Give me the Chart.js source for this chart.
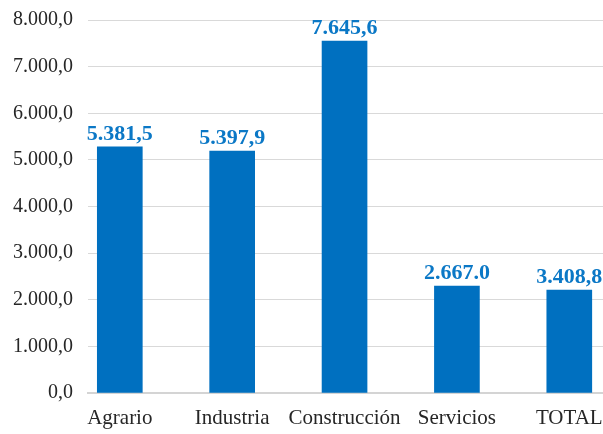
<!DOCTYPE html>
<html>
<head>
<meta charset="utf-8">
<script src="https://cdn.jsdelivr.net/npm/chart.js@4.4.0/dist/chart.umd.min.js"></script>
<style>
  html, body { margin: 0; padding: 0; background: #fff; overflow: hidden; }
  #wrap { width: 603px; height: 434px; position: relative; }
</style>
</head>
<body>
<div id="wrap"><canvas id="barChart"></canvas></div>
<script>
const categories = ['Agrario', 'Industria', 'Construcción', 'Servicios', 'TOTAL'];
const barValues = [5280, 5190, 7550, 2295, 2210];
const barLabels = ['5.381,5', '5.397,9', '7.645,6', '2.667.0', '3.408,8'];
const yTicks = [0, 1000, 2000, 3000, 4000, 5000, 6000, 7000, 8000];

const blue = '#0070C0';
const labelBlue = '#0B78C6';
const serif = '"Liberation Serif", "Times New Roman", serif';

function fmt(v) {
    const parts = v.toFixed(1).split('.');
    const ints = parts[0].replace(/\B(?=(\d{3})+(?!\d))/g, '.');
    return ints + ',' + parts[1];
}

// etiquetas encima de cada barra
const topLabels = {
    id: 'topLabels',
    afterDatasetsDraw(chart) {
        const ctx = chart.ctx;
        const meta = chart.getDatasetMeta(0);
        ctx.save();
        ctx.font = 'bold 22px ' + serif;
        ctx.fillStyle = labelBlue;
        ctx.textAlign = 'center';
        ctx.textBaseline = 'alphabetic';
        meta.data.forEach((bar, i) => {
            ctx.fillText(barLabels[i], bar.x, bar.y - 7);
        });
        ctx.restore();
    }
};

const ctx = document.getElementById('barChart').getContext('2d');
new Chart(ctx, {
    type: 'bar',
    data: {
        datasets: [{
            data: barValues.map((v, i) => ({ x: i, y: v })),
            backgroundColor: blue,
            borderWidth: 0,
            barThickness: 45
        }]
    },
    options: {
        responsive: true,
        maintainAspectRatio: false,
        animation: false,
        layout: { padding: { top: 20, right: 0, left: 0, bottom: 0 } },
        plugins: {
            legend: { display: false },
            tooltip: { enabled: false }
        },
        scales: {
            x: {
                type: 'linear',
                min: -0.283,
                max: 4.30,
                offset: false,
                grid: { display: false, drawTicks: false },
                border: { color: '#d4d4d4', width: 2 },
                afterBuildTicks: function(scale) {
                    scale.ticks = categories.map((c, i) => ({ value: i }));
                },
                afterFit: function(scale) {
                    scale.height = 41;
                    scale.paddingLeft = 0;
                    scale.paddingRight = 0;
                },
                ticks: {
                    autoSkip: false,
                    maxRotation: 0,
                    padding: 13,
                    color: '#262626',
                    font: { family: serif, size: 21 },
                    callback: function(value) { return categories[value]; }
                }
            },
            y: {
                min: 0,
                max: 8000,
                afterBuildTicks: function(scale) {
                    scale.ticks = yTicks.map(v => ({ value: v }));
                },
                afterFit: function(scale) {
                    scale.width = 88;
                    scale.paddingTop = 0;
                    scale.paddingBottom = 0;
                },
                grid: { color: '#d9d9d9', lineWidth: 1, drawTicks: false },
                border: { display: false },
                ticks: {
                    padding: 15,
                    color: '#262626',
                    font: { family: serif, size: 20 },
                    callback: function(value) { return fmt(value); }
                }
            }
        }
    },
    plugins: [topLabels]
});
</script>
</body>
</html>
